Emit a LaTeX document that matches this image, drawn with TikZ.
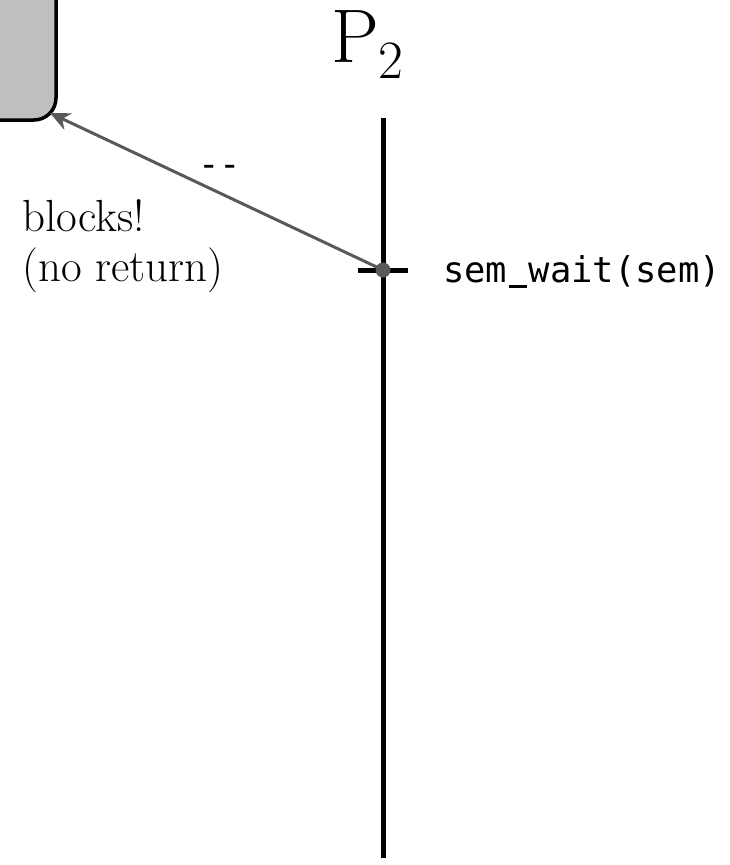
\documentclass[tikz,border=0pt]{standalone}
\usepackage{fontspec}
\newfontfamily\codefont{DejaVu Sans Mono}
\usetikzlibrary{arrows.meta}
% a heavier underscore, one monospace cell wide
\newcommand\codeunderscore{\makebox[0.602em][c]{\rule[-5pt]{0.52em}{3pt}}}
\tikzset{
  procbox/.style={draw=black, line width=3.5pt, fill=gray!50, rounded corners=22pt},
  timeline/.style={draw=black, line width=5pt},
  callarrow/.style={draw=black!65, line width=3pt, -{Stealth[length=20pt,width=18pt]}},
  calldot/.style={circle, fill=black!65, inner sep=0pt, minimum size=15pt},
  codetext/.style={font=\codefont\fontsize{35.5}{40}\selectfont, inner sep=0pt},
  prosetext/.style={font=\fontsize{45}{50}\selectfont, align=left, inner sep=0pt},
}
\begin{document}
\begin{tikzpicture}[x=1pt, y=-1pt]
  \useasboundingbox (0,0) rectangle (730,865);
  \clip (0,0) rectangle (730,865);
  % kernel box, partly off the page
  \draw[procbox] (-200,-200) rectangle (56,120);
  \coordinate (corner) at (50,113);
  % process P2 time line
  \node[font=\fontsize{76}{76}\selectfont, inner sep=0pt, anchor=base west] (p2) at (331,62)
    {P\raisebox{-16pt}{\fontsize{54}{54}\selectfont 2}};
  \coordinate (top) at (383,118);
  \coordinate (bottom) at (383,858);
  \draw[timeline] (top) -- (bottom);
  \coordinate (tickl) at (358,270);
  \coordinate (tickr) at (408,270);
  \draw[timeline] (tickl) -- (tickr);
  \node[calldot] (call) at (383,270) {};
  \node[codetext, anchor=west] (wait) at (443,272) {sem\codeunderscore wait(sem)};
  % the call goes into the kernel and never returns
  \draw[callarrow] (call.center) -- node[codetext, above=14pt, xshift=3pt] (lbl) {-{}-} (corner);
  \node[prosetext, anchor=north west] (note) at (22,199) {blocks!\\(no return)};
\end{tikzpicture}
\end{document}
